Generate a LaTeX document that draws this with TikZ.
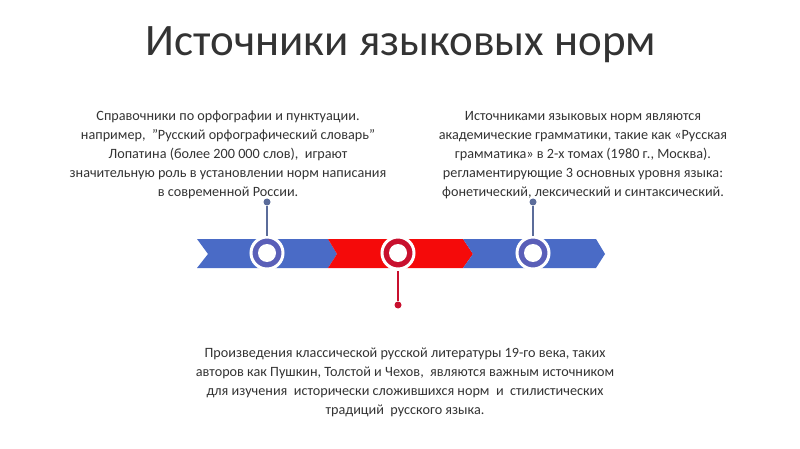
\documentclass[tikz,border=0pt]{standalone}
\usepackage{fontspec}
\setmainfont{Carlito}
\definecolor{bandblue}{HTML}{4A6BC6}
\definecolor{ringblue}{HTML}{5A5FB8}
\definecolor{bandred}{HTML}{F50A0A}
\definecolor{ringred}{HTML}{C8102E}
\definecolor{pinblue}{HTML}{5B6C9A}
\definecolor{txt}{HTML}{333333}
\begin{document}
\begin{tikzpicture}[x=1pt,y=-1pt,
		chev/.style={draw=none},
		ring/.style={circle,draw=white,line width=3pt,minimum size=32pt,inner sep=0pt},
		pin/.style={circle,inner sep=0pt,minimum size=7pt},
		para/.style={align=center,font=\fontsize{14.2}{19}\selectfont,text=txt}]
	\useasboundingbox (0,0) rectangle (800,449);
	% band
	\fill[bandblue] (197,239) -- (328,239) -- (337,254) -- (328,268) -- (197,268) -- (208,254) -- cycle;
	\fill[bandred] (328,239) -- (463,239) -- (473,254) -- (463,268) -- (328,268) -- (337,254) -- cycle;
	\fill[bandblue] (463,239) -- (596,239) -- (605,254) -- (596,268) -- (463,268) -- (473,254) -- cycle;
	% markers
	\node[ring,fill=ringblue] (m1) at (267,253) {};
	\node[ring,fill=ringred] (m2) at (398,253) {};
	\node[ring,fill=ringblue] (m3) at (533,253) {};
	\foreach \m in {m1,m2,m3}
		\fill[white] (\m) circle (9);
	\node[pin,fill=pinblue] (p1) at (267,202) {};
	\node[pin,fill=ringred] (p2) at (398,305) {};
	\node[pin,fill=pinblue] (p3) at (533,202) {};
	\draw[pinblue,line width=1.5pt] (p1) -- (m1.north);
	\draw[ringred,line width=1.5pt] (p2) -- (m2.south);
	\draw[pinblue,line width=1.5pt] (p3) -- (m3.north);
	% texts
	\node[font=\fontsize{45}{50}\selectfont,text=txt] (title) at (401,45) {Источники языковых норм};
	\node[para] (left) at (228,155) {Справочники по орфографии и пунктуации.\\
		например,~ ”Русский орфографический словарь”\\
		Лопатина (более 200 000 слов),~ играют\\
		значительную роль в установлении норм написания\\
		в современной России.};
	\node[para] (right) at (583,155) {Источниками языковых норм являются\\
		академические грамматики, такие как «Русская\\
		грамматика» в 2-х томах (1980 г., Москва).\\
		регламентирующие 3 основных уровня языка:\\
		фонетический, лексический и синтаксический.};
	\node[para] (bottom) at (405,382) {Произведения классической русской литературы 19-го века, таких\\
		авторов как Пушкин, Толстой и Чехов,~ являются важным источником\\
		для изучения~ исторически сложившихся норм~ и~ стилистических\\
		традиций~ русского языка.};
\end{tikzpicture}
\end{document}
